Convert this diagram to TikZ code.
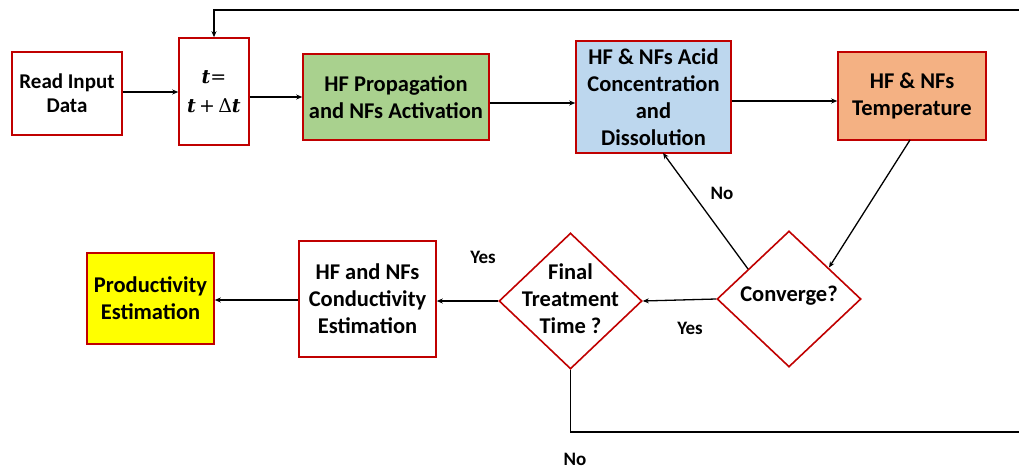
\documentclass[tikz,border=0pt]{standalone}
\usepackage{fontspec}
\setmainfont{Carlito}
\newfontfamily\mfont{DejaVu Serif}
\usetikzlibrary{shapes.geometric,arrows.meta}
\definecolor{bred}{HTML}{C00000}
\definecolor{bgreen}{HTML}{A9D18E}
\definecolor{bblue}{HTML}{BDD7EE}
\definecolor{borange}{HTML}{F4B183}
\definecolor{byellow}{HTML}{FFFF00}
\newcommand{\bt}{{\mfont\bfseries\itshape t}}
\tikzset{
  box/.style={draw=bred, line width=1.6pt, rectangle, inner sep=0pt, align=center, font=\bfseries\fontsize{22.5}{27}\selectfont},
  dia/.style={draw=bred, line width=1.6pt, diamond, inner sep=0pt},
  dtext/.style={align=center, inner sep=0pt, font=\bfseries\fontsize{22.5}{27}\selectfont},
  lbl/.style={inner sep=0pt, font=\bfseries\fontsize{19}{22}\selectfont},
  arr/.style={line width=1.3pt, -{Stealth[length=6pt,width=5pt]}},
  ln/.style={line width=1.3pt}
}
\begin{document}
\begin{tikzpicture}[x=1pt,y=-1pt]
\useasboundingbox (0,0) rectangle (1019,468);
\node[box, minimum width=110, minimum height=83, font=\bfseries\fontsize{21}{24}\selectfont] (read) at (67,93.5) {Read Input\\Data};
\node[box, minimum width=70, minimum height=107, font=\mfont\fontsize{19}{29}\selectfont] (tbox) at (214,91.5) {\bt{=}\\\bt\,+\,Δ\bt};
\node[box, fill=bgreen, minimum width=186, minimum height=86] (hf) at (396,97) {HF Propagation\\and NFs Activation};
\node[box, fill=bblue, minimum width=155, minimum height=112] (acid) at (653.5,97) {HF \& NFs Acid\\Concentration\\and\\Dissolution};
\node[box, fill=borange, minimum width=148, minimum height=88] (temp) at (912,96) {HF \& NFs\\Temperature};
\node[dia, minimum width=144, minimum height=136] (conv) at (789,299) {};
\node[dtext] (convt) at (789,296) {Converge?};
\node[dia, minimum width=143, minimum height=136] (final) at (570.5,301) {};
\node[dtext] (finalt) at (570.5,299) {Final\\Treatment\\Time ?};
\node[box, minimum width=137, minimum height=116] (cond) at (367.5,299) {HF and NFs\\Conductivity\\Estimation};
\node[box, fill=byellow, minimum width=127, minimum height=91] (prod) at (150.5,298.5) {Productivity\\Estimation};
\coordinate (tr) at (1019,10);
\coordinate (br) at (1019,432);
\coordinate (bl) at (570.5,432);
\coordinate (tl) at (214,10);
\coordinate (c1) at (748,269);
\coordinate (c2) at (829,267.5);
\coordinate (t1) at (910,140);
\coordinate (a1) at (663,153);
\draw[arr] (read.east |- 0,92) -- (tbox.west |- 0,92);
\draw[arr] (tbox.east |- hf.west) -- (hf.west);
\draw[arr] ([yshift=-6]hf.east) -- ([yshift=-6]hf.east -| acid.west);
\draw[arr] ([yshift=-4]acid.east) -- ([yshift=-4]acid.east -| temp.west);
\draw[arr] (t1) -- (c2);
\draw[arr] (c1) -- (a1);
\draw[arr] (conv.west) -- (final.east);
\draw[arr] (final.west) -- (final.west -| cond.east);
\draw[arr] (cond.west |- 0,300) -- (prod.east |- 0,300);
\draw[ln] (final.south) -- (bl) -- (br);
\draw[arr] (tr) -- (tl) -- (tbox.north);
\node[lbl] (no1) at (722,193) {No};
\node[lbl] (yes1) at (690,328) {Yes};
\node[lbl] (yes2) at (483,257) {Yes};
\node[lbl] (no2) at (575,459) {No};
\end{tikzpicture}
\end{document}
